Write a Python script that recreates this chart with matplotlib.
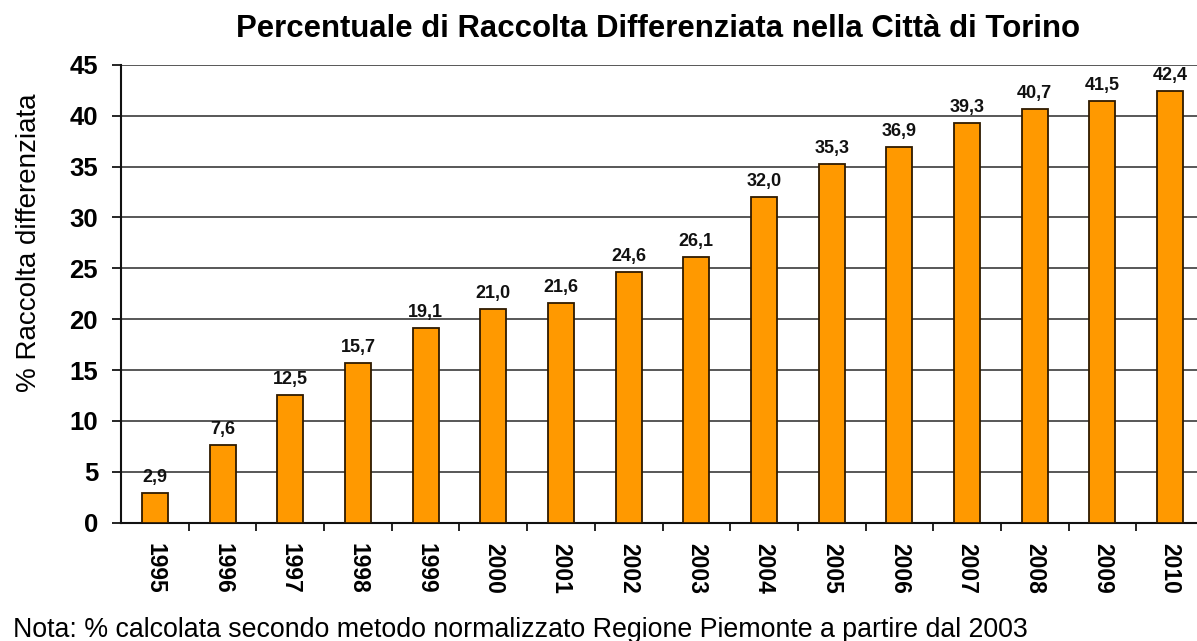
import numpy as np
from matplotlib import pyplot as plt

plt.rcParams['font.family'] = ['Liberation Sans', 'DejaVu Sans']

anni = ['1995', '1996', '1997', '1998', '1999', '2000', '2001', '2002',
        '2003', '2004', '2005', '2006', '2007', '2008', '2009', '2010']
percentuali = [2.9, 7.6, 12.5, 15.7, 19.1, 21.0, 21.6, 24.6,
               26.1, 32.0, 35.3, 36.9, 39.3, 40.7, 41.5, 42.4]

W, H = 1197, 641
fig = plt.figure(figsize=(W / 100, H / 100), dpi=100)
# l'asse continua oltre il bordo destro dell'immagine
ax = fig.add_axes([121 / W, 1 - 522.5 / H, 1083 / W, 457.5 / H])

x = np.arange(len(anni))
ax.bar(x, percentuali, width=0.385, color='#FF9900', edgecolor='#2e1a00',
       linewidth=1.3, zorder=3)

for xi, v in zip(x, percentuali):
    ax.annotate(('%.1f' % v).replace('.', ','), (xi, v), xytext=(0, 5),
                textcoords='offset points', ha='center', va='bottom',
                fontsize=13, fontweight='bold', color='#111111')

ax.set_xlim(-0.5, len(anni) - 0.5)
ax.set_ylim(0, 45)
ax.set_yticks(range(0, 46, 5))
ax.yaxis.grid(True, color='#4a4a4a', linewidth=1.3, zorder=0)

# tick tra le categorie
ax.set_xticks(x[:-1] + 0.5)
ax.set_xticklabels([])
ax.set_xticks(x, minor=True)
ax.set_xticklabels(anni, minor=True, rotation=-90, fontsize=16.5,
                   fontweight='bold')
ax.tick_params(axis='x', which='minor', length=0, pad=15)
ax.tick_params(axis='x', which='major', length=6, width=1.2, direction='out')
ax.tick_params(axis='y', length=6.5, width=1.2, labelsize=18.5, pad=10)
for lab in ax.get_yticklabels():
    lab.set_fontweight('bold')

for s in ['top', 'right']:
    ax.spines[s].set_visible(False)
for s in ['left', 'bottom']:
    ax.spines[s].set_linewidth(1.5)
    ax.spines[s].set_color('#111111')

fig.text(29 / W, 1 - 243 / H, '% Raccolta differenziata', rotation=90,
         ha='center', va='center', fontsize=20)
fig.text(658 / W, 1 - 37 / H, 'Percentuale di Raccolta Differenziata nella Città di Torino',
         ha='center', va='baseline', fontsize=22.4, fontweight='bold')
fig.text(13 / W, 1 - 637 / H,
         'Nota: % calcolata secondo metodo normalizzato Regione Piemonte a partire dal 2003',
         ha='left', va='baseline', fontsize=19.3)

fig.savefig('out.png', dpi=100)
